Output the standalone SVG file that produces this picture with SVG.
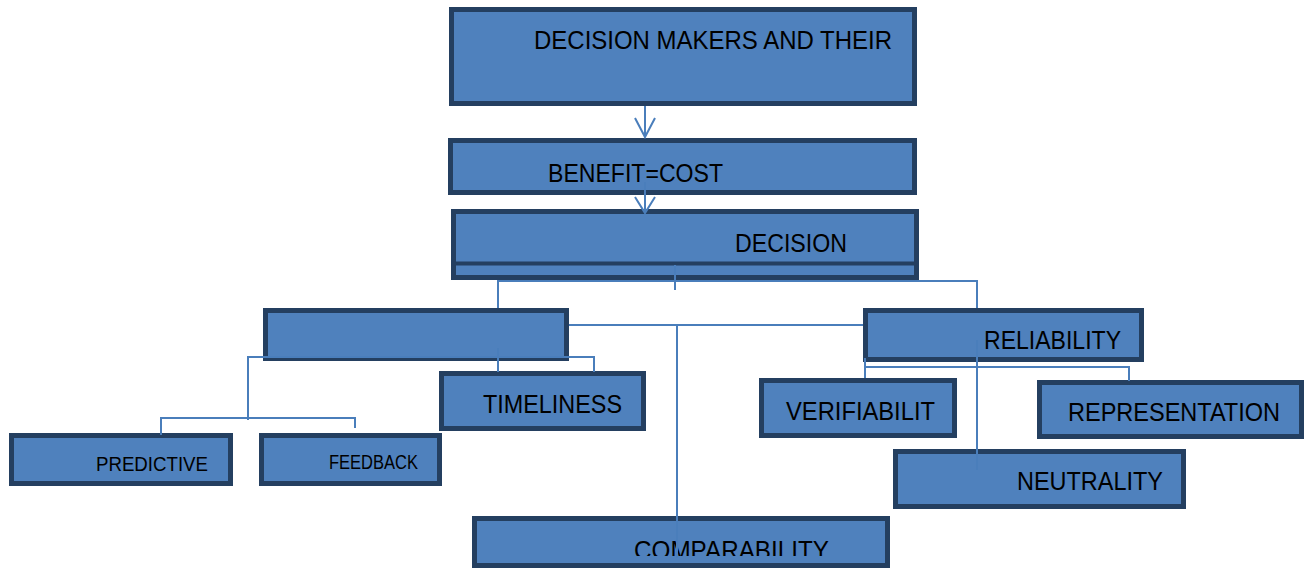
<svg xmlns="http://www.w3.org/2000/svg" width="1305" height="568" viewBox="0 0 1305 568">
<style>
.box{fill:#4F81BD;stroke:#243F60;stroke-width:5}
.t{font-family:"Liberation Sans",Arial,sans-serif;fill:#000}
.c{fill:none;stroke:#4A7EBB;stroke-width:2}
</style>
<defs>
<clipPath id="clipComp"><rect x="470" y="500" width="430" height="56"/></clipPath>
</defs>
<rect width="1305" height="568" fill="#fff"/>
<g id="node-decision-makers">
<rect class="box" x="451.5" y="9.5" width="463" height="94"/>
<text class="t" x="534" y="49" font-size="26" textLength="358" lengthAdjust="spacingAndGlyphs">DECISION MAKERS AND THEIR</text>
</g>
<g id="node-benefit-cost">
<rect class="box" x="450.5" y="140.5" width="464" height="52"/>
<text class="t" x="548" y="182" font-size="26" textLength="175" lengthAdjust="spacingAndGlyphs">BENEFIT=COST</text>
</g>
<g id="node-decision">
<rect class="box" x="453.5" y="211.5" width="463" height="66"/>
<line x1="453.5" y1="263.5" x2="916.5" y2="263.5" stroke="#243F60" stroke-width="4"/>
<text class="t" x="735" y="252" font-size="26" textLength="112" lengthAdjust="spacingAndGlyphs">DECISION</text>
</g>
<g id="node-relevance">
<rect class="box" x="265.5" y="310.5" width="301" height="48"/>
</g>
<g id="node-timeliness">
<rect class="box" x="441.5" y="373.5" width="202" height="55"/>
<text class="t" x="483" y="413" font-size="25" textLength="139" lengthAdjust="spacingAndGlyphs">TIMELINESS</text>
</g>
<g id="node-predictive">
<rect class="box" x="11.5" y="435.5" width="219" height="48"/>
<text class="t" x="96" y="471" font-size="21" textLength="112" lengthAdjust="spacingAndGlyphs">PREDICTIVE</text>
</g>
<g id="node-feedback">
<rect class="box" x="261.5" y="435.5" width="178" height="48"/>
<text class="t" x="329" y="469" font-size="20" textLength="89" lengthAdjust="spacingAndGlyphs">FEEDBACK</text>
</g>
<g id="node-reliability">
<rect class="box" x="865.5" y="310.5" width="276" height="49"/>
<text class="t" x="984" y="349" font-size="25" textLength="137" lengthAdjust="spacingAndGlyphs">RELIABILITY</text>
</g>
<g id="node-verifiability">
<rect class="box" x="761.5" y="380.5" width="193" height="55"/>
<text class="t" x="786" y="420" font-size="25" textLength="149" lengthAdjust="spacingAndGlyphs">VERIFIABILIT</text>
</g>
<g id="node-representation">
<rect class="box" x="1039.5" y="382.5" width="262" height="54"/>
<text class="t" x="1068" y="421" font-size="25" textLength="212" lengthAdjust="spacingAndGlyphs">REPRESENTATION</text>
</g>
<g id="node-neutrality">
<rect class="box" x="895.5" y="451.5" width="288" height="55"/>
<text class="t" x="1017" y="490" font-size="25" textLength="146" lengthAdjust="spacingAndGlyphs">NEUTRALITY</text>
</g>
<g id="node-comparability">
<rect class="box" x="474.5" y="518.5" width="413" height="47"/>
<text class="t" x="634" y="559" font-size="26" textLength="195" lengthAdjust="spacingAndGlyphs" clip-path="url(#clipComp)">COMPARABILITY</text>
</g>
<g id="connectors">
<line class="c" x1="645" y1="106" x2="645" y2="137"/>
<polyline class="c" points="635,118 645,137 655,118"/>
<line class="c" x1="645" y1="182" x2="645" y2="213"/>
<polyline class="c" points="635,197 645,213 655,197"/>
<line class="c" x1="675" y1="265" x2="675" y2="290"/>
<polyline class="c" points="498,308 498,281 977,281 977,308"/>
<line class="c" x1="569" y1="325" x2="863" y2="325"/>
<line class="c" x1="677" y1="325" x2="677" y2="558"/>
<line class="c" x1="498" y1="348" x2="498" y2="372"/>
<polyline class="c" points="248,420 248,357 594,357 594,372"/>
<polyline class="c" points="161,435 161,418 355,418 355,428"/>
<line class="c" x1="977" y1="340" x2="977" y2="470"/>
<polyline class="c" points="865,358 865,378"/>
<polyline class="c" points="865,367 1129,367 1129,381"/>
</g>
</svg>
